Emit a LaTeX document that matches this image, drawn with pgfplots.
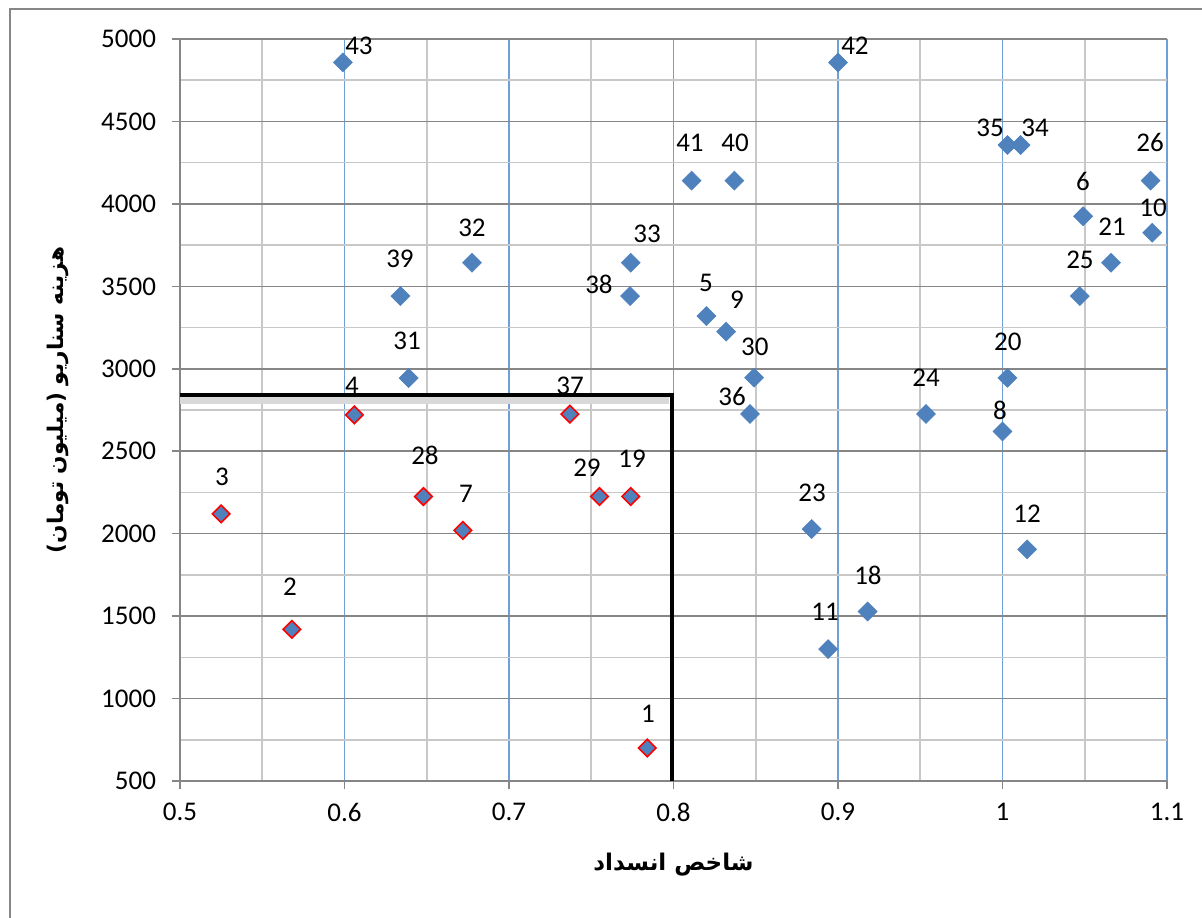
\documentclass[border=0pt]{standalone}
\usepackage{fontspec}
\setmainfont{Carlito}
\newfontfamily\arabicfont[Script=Arabic]{DejaVu Sans}
\TeXXeTstate=1
\usepackage{pgfplots}
\pgfplotsset{compat=1.18}
\definecolor{mkblue}{RGB}{79,129,189}
\definecolor{gridblue}{RGB}{110,160,215}
\definecolor{gmaj}{RGB}{134,134,134}
\definecolor{gmin}{RGB}{200,200,200}
\begin{document}
\begin{tikzpicture}
\begin{axis}[
  scale only axis,
  width=493.5bp, height=371bp,
  xmin=0.5, xmax=1.1, ymin=500, ymax=5000,
  xtick={0.5,0.6,0.7,0.8,0.9,1.0,1.1},
  ytick={500,1000,1500,2000,2500,3000,3500,4000,4500,5000},
  minor x tick num=1, minor y tick num=1,
  grid=both,
  major x grid style={color=gridblue, line width=0.7bp},
  minor x grid style={color=gmin, line width=0.8bp},
  major y grid style={color=gmaj, line width=0.8bp},
  minor y grid style={color=gmin, line width=0.8bp},
  axis lines=left,
  axis line style={-, color=gmaj, line width=0.8bp},
  tick align=outside,
  major tick length=4bp, minor tick length=0pt,
  tick style={color=gmaj, line width=0.8bp},
  /pgf/number format/assume math mode=true,
  xticklabel style={/pgf/number format/fixed, /pgf/number format/precision=1, font=\fontsize{13.5bp}{15bp}\selectfont, yshift=-3.5bp},
  yticklabel style={/pgf/number format/set thousands separator={}, font=\fontsize{13.5bp}{15bp}\selectfont, xshift=-4.5bp},
  clip=false,
]
\addplot[only marks, mark=square*, mark size=3.35bp, mark options={rotate=45, fill=mkblue, draw=mkblue, line width=0.3bp}] coordinates {
 (0.820,3320) (1.049,3925) (1.000,2620) (0.832,3225) (1.091,3825)
 (0.894,1300) (1.015,1905) (0.918,1528) (1.003,2945) (1.066,3643)
 (0.884,2028) (0.9535,2726) (1.047,3441) (1.090,4141) (0.849,2946)
 (0.639,2944) (0.6775,3643) (0.774,3643) (1.011,4357) (1.003,4357)
 (0.8465,2726) (0.7736,3441) (0.634,3441) (0.837,4141) (0.811,4141)
 (0.900,4858) (0.599,4858)
};
\addplot[only marks, mark=square*, mark size=3.1bp, mark options={rotate=45, fill=mkblue, draw=red, line width=0.8bp}] coordinates {
 (0.784,700) (0.568,1420) (0.525,2120) (0.606,2720) (0.672,2020)
 (0.774,2225) (0.648,2225) (0.755,2225) (0.737,2725)
};
\addplot[black!15, line width=3.5bp, forget plot] coordinates {(0.5,2810) (0.797,2810)};
\addplot[black, line width=2bp] coordinates {(0.5,2840) (0.799,2840) (0.799,500)};
\coordinate (sw) at (rel axis cs:0,0);
\coordinate (ne) at (rel axis cs:1,1);
\coordinate (yl) at (rel axis cs:0,0.5);
\coordinate (xl) at (rel axis cs:0.5,0);
\begin{scope}[every node/.style={font=\fontsize{13.5bp}{15bp}\selectfont, inner sep=0pt}]
\node at (axis cs:0.6088,4958) {43};
\node at (axis cs:0.9103,4958) {42};
\node at (axis cs:0.8100,4370) {41};
\node at (axis cs:0.8374,4370) {40};
\node at (axis cs:0.9924,4460) {35};
\node at (axis cs:1.0198,4460) {34};
\node at (axis cs:1.0897,4370) {26};
\node at (axis cs:1.0489,4133) {6};
\node at (axis cs:1.0915,3975) {10};
\node at (axis cs:1.0666,3860) {21};
\node at (axis cs:1.0471,3660) {25};
\node at (axis cs:0.7839,3818) {33};
\node at (axis cs:0.7547,3514) {38};
\node at (axis cs:0.6337,3666) {39};
\node at (axis cs:0.6775,3854) {32};
\node at (axis cs:0.8198,3520) {5};
\node at (axis cs:0.8386,3417) {9};
\node at (axis cs:0.8495,3132) {30};
\node at (axis cs:0.6380,3169) {31};
\node at (axis cs:1.0033,3163) {20};
\node at (axis cs:0.9535,2944) {24};
\node at (axis cs:0.8356,2829) {36};
\node at (axis cs:0.6046,2896) {4};
\node at (axis cs:0.7371,2896) {37};
\node at (axis cs:0.9985,2750) {8};
\node at (axis cs:0.5255,2344) {3};
\node at (axis cs:0.6489,2477) {28};
\node at (axis cs:0.7474,2398) {29};
\node at (axis cs:0.7748,2453) {19};
\node at (axis cs:0.6739,2241) {7};
\node at (axis cs:0.8842,2247) {23};
\node at (axis cs:1.0149,2119) {12};
\node at (axis cs:0.5669,1677) {2};
\node at (axis cs:0.9182,1749) {18};
\node at (axis cs:0.8921,1525) {11};
\node at (axis cs:0.7845,906) {1};
\end{scope}
\end{axis}
\node[rotate=90, font=\arabicfont\bfseries\fontsize{10.8bp}{13bp}\selectfont] at ([xshift=-61bp,yshift=5bp]yl) {\beginR هزینه سناریو (میلیون تومان)\endR};
\node[font=\arabicfont\bfseries\fontsize{11.5bp}{14bp}\selectfont] at ([yshift=-42bp]xl) {\beginR شاخص انسداد\endR};
\pgfresetboundingbox
\path[use as bounding box] ([xshift=-90bp,yshift=-68.5bp]sw) rectangle ([xshift=17.5bp,yshift=19.5bp]ne);
\draw[color=gmaj, line width=0.8bp] ([xshift=-85bp,yshift=-90bp]sw) rectangle ([xshift=25bp,yshift=15bp]ne);
\end{tikzpicture}
\end{document}
